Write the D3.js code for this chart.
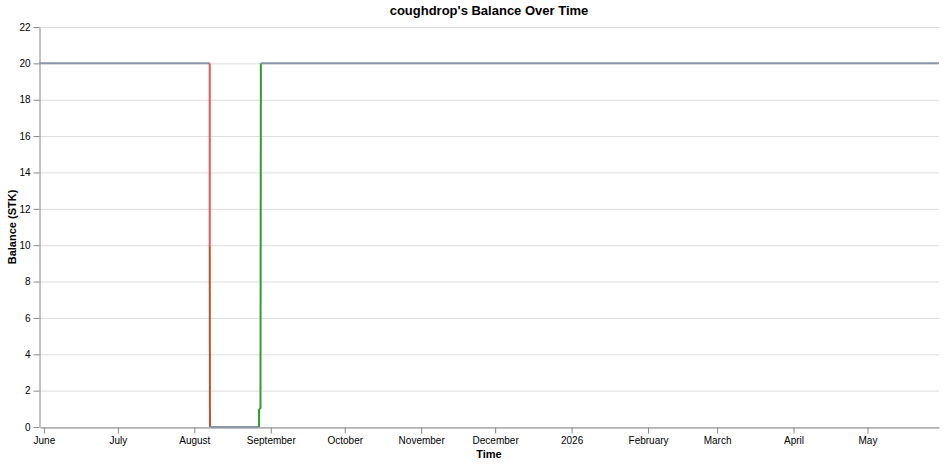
<!DOCTYPE html>
<html>
<head>
<meta charset="utf-8">
<script src="https://cdn.jsdelivr.net/npm/d3@7"></script>
<style>
body { margin: 0; background: #fff; font-family: "Liberation Sans", Arial, sans-serif; }
</style>
</head>
<body>
<svg id="chart" width="946" height="464"></svg>
<script>
// data: balance steps, each segment from point i to point i+1 gets segColors[i]
const times = ["2025-05-30T00:00", "2025-08-07T06:00", "2025-08-07T06:00", "2025-08-07T08:00",
	"2025-08-27T06:00", "2025-08-27T06:00", "2025-08-27T20:00", "2025-08-27T20:00",
	"2025-08-28T00:00", "2026-05-30T00:00"];
const values = [20, 20, 10, 0, 0, 1, 1, 2, 20, 20];
const segColors = ["#8a95a5", "#e45756", "#b5532f", "#8a95a5", "#2ca02c", "#2ca02c", "#2ca02c", "#2ca02c", "#8a95a5"];
const yTicks = [0, 2, 4, 6, 8, 10, 12, 14, 16, 18, 20, 22];

const margin = { left: 40, right: 939, top: 27, bottom: 427 };
const svg = d3.select("#chart");
const parse = d3.timeParse("%Y-%m-%dT%H:%M");
const pts = times.map((t, i) => ({ t: parse(t), v: values[i] }));

const x = d3.scaleTime()
	.domain([parse("2025-05-30T10:00"), parse("2026-05-30T00:00")])
	.range([margin.left, margin.right]);
const y = d3.scaleLinear().domain([0, 22]).range([margin.bottom, margin.top]);

// grid
svg.append("g").selectAll("line").data(yTicks).enter().append("line")
	.attr("x1", margin.left).attr("x2", margin.right)
	.attr("y1", d => y(d) + 0.5).attr("y2", d => y(d) + 0.5)
	.attr("stroke", "#ddd");

// axes
const fmt = d => d.getMonth() === 0 ? d3.timeFormat("%Y")(d) : d3.timeFormat("%B")(d);
const xa = svg.append("g").attr("transform", `translate(0,${margin.bottom + 0.5})`)
	.call(d3.axisBottom(x).ticks(d3.timeMonth.every(1)).tickFormat(fmt).tickSizeOuter(0));
const ya = svg.append("g").attr("transform", `translate(${margin.left - 0.5},0)`)
	.call(d3.axisLeft(y).tickValues(yTicks).tickSizeOuter(0));
[xa, ya].forEach(a => {
	a.selectAll("path, line").attr("stroke", "#888");
	a.selectAll("text").attr("fill", "#000").style("font-size", "10px").style("font-family", "Liberation Sans, Arial, sans-serif");
});

// line segments
for (let i = 0; i < pts.length - 1; i++) {
	svg.append("line")
		.attr("x1", x(pts[i].t)).attr("y1", y(pts[i].v))
		.attr("x2", x(pts[i + 1].t)).attr("y2", y(pts[i + 1].v))
		.attr("stroke", segColors[i]).attr("stroke-width", 2);
}

// titles
svg.append("text").attr("x", 489).attr("y", 15).attr("text-anchor", "middle")
	.style("font-size", "13px").style("font-weight", "bold").text("coughdrop's Balance Over Time");
svg.append("text").attr("x", 489).attr("y", 458).attr("text-anchor", "middle")
	.style("font-size", "11px").style("font-weight", "bold").text("Time");
svg.append("text").attr("transform", "translate(16,227) rotate(-90)").attr("text-anchor", "middle")
	.style("font-size", "11px").style("font-weight", "bold").text("Balance (STK)");
</script>
</body>
</html>
